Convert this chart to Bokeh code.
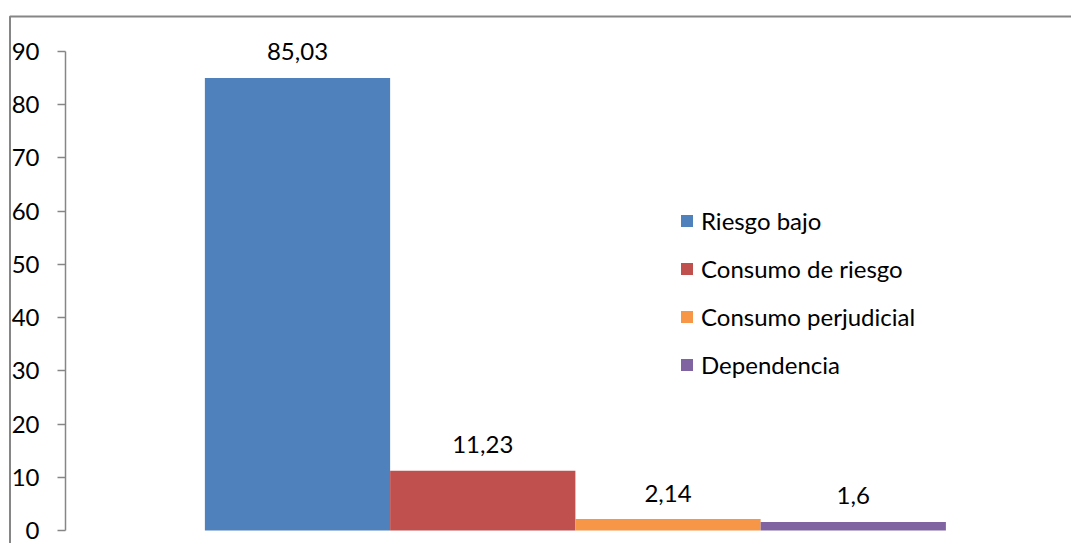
from bokeh.plotting import figure
from bokeh.models import (Range1d, LinearAxis, FixedTicker, Legend, LegendItem,
                          ColumnDataSource)
from bokeh.core.properties import value
from bokeh.embed import file_html
from bokeh.resources import INLINE

# ---- data ----
categories = ["Riesgo bajo", "Consumo de riesgo", "Consumo perjudicial", "Dependencia"]
values = [85.03, 11.23, 2.14, 1.6]
value_labels = ["85,03", "11,23", "2,14", "1,6"]
colors = ["#4F81BD", "#C0504D", "#F79646", "#8064A2"]
y_ticks = [0, 10, 20, 30, 40, 50, 60, 70, 80, 90]

FONT = "Lato"
FSIZE = "24px"
GRAY = "#868686"

x_start, x_end = -1.6032, 4.178
y_start, y_end = -2.443, 99.58

p = figure(width=1071, height=543, x_range=Range1d(x_start, x_end),
           y_range=Range1d(y_start, y_end), output_backend="svg",
           toolbar_location=None, min_border=0,
           x_axis_location=None, y_axis_location=None)
p.outline_line_color = None
for g in p.grid:
    g.visible = False

# chart border (top and left edges visible)
border_x = -1.552
border_top = 96.58
p.line(x=[border_x, border_x, x_end], y=[y_start, border_top, border_top],
       line_color=GRAY, line_width=2)

src = ColumnDataSource(dict(x=list(range(len(categories))), top=values,
                            color=colors, label=value_labels, cat=categories))
bars = p.vbar(x="x", top="top", bottom=0, width=1.0, fill_color="color",
              line_color=None, source=src)

p.text(x="x", y="top", text="label", source=src, y_offset=-26,
       text_align="center", text_baseline="middle",
       text_font=value(FONT), text_font_size=FSIZE, text_color="black")

yaxis = LinearAxis(fixed_location=-1.2524, bounds=(0, 90),
                   ticker=FixedTicker(ticks=y_ticks))
yaxis.axis_line_color = GRAY
yaxis.axis_line_width = 1.5
yaxis.major_tick_line_color = GRAY
yaxis.major_tick_line_width = 1.5
yaxis.major_tick_out = 8
yaxis.major_tick_in = 0
yaxis.minor_tick_line_color = None
yaxis.major_label_text_font = FONT
yaxis.major_label_text_font_size = FSIZE
yaxis.major_label_text_color = "black"
yaxis.major_label_standoff = 18
p.add_layout(yaxis, "left")

items = [LegendItem(label=c, renderers=[bars], index=i) for i, c in enumerate(categories)]
legend = Legend(items=items, location=(679, 164), padding=0, margin=0,
                border_line_color=None, background_fill_alpha=0,
                glyph_width=15, glyph_height=15, label_height=29, spacing=19,
                label_standoff=7, label_text_font=FONT,
                label_text_font_size=FSIZE, label_text_color="black")
p.add_layout(legend)

open("out.html", "w").write(file_html(p, INLINE))
